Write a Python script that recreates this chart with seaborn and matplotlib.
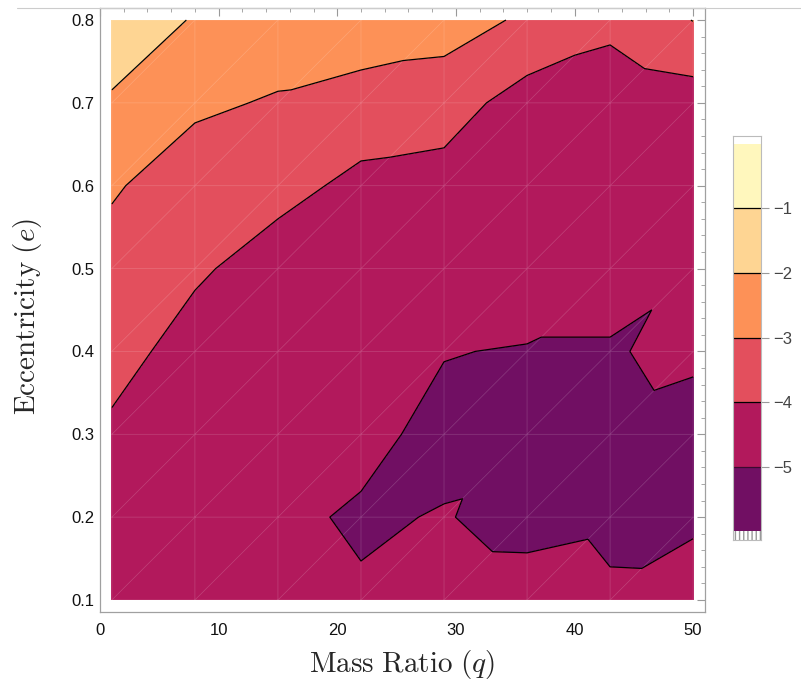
import numpy as np
import matplotlib
matplotlib.use("Agg")
import matplotlib.pyplot as plt
import matplotlib.tri as mtri
from matplotlib.lines import Line2D
import seaborn as sns

# grid of the contour data
q_vals = [1, 8, 15, 22, 29, 36, 43, 50]
e_vals = [0.1, 0.2, 0.3, 0.4, 0.5, 0.6, 0.7, 0.8]

# log values, rows from e=0.8 (top) down to e=0.1
z_rows = [
    [-1.30, -2.08, -2.20, -2.30, -2.56, -3.15, -3.69, -2.98],  # e=0.8
    [-2.13, -2.76, -3.13, -3.46, -3.56, -4.42, -4.72, -4.47],  # e=0.7
    [-2.85, -3.75, -3.70, -4.23, -4.37, -4.60, -4.70, -4.60],  # e=0.6
    [-3.53, -3.85, -4.45, -4.55, -4.70, -4.50, -4.76, -4.95],  # e=0.5
    [-3.62, -4.42, -4.55, -4.70, -4.97, -5.05, -5.05, -4.84],  # e=0.4
    [-4.18, -4.45, -4.60, -4.80, -5.21, -5.14, -5.18, -5.36],  # e=0.3
    [-4.35, -4.50, -4.85, -5.09, -4.96, -5.25, -5.12, -5.13],  # e=0.2
    [-4.45, -4.50, -4.68, -4.92, -4.65, -4.67, -4.92, -4.63],  # e=0.1
]

levels = [-6, -5, -4, -3, -2, -1, 0]
band_colors = ["#710f63", "#b2195c", "#e34f5d", "#fd9157", "#fed593", "#fff7bd"]
line_levels = [-5, -4, -3, -2, -1]
cbar_ticks = [-1, -2, -3, -4, -5]

sns.set_style("white")
plt.rcParams["font.family"] = ["Liberation Sans", "DejaVu Sans"]
plt.rcParams["mathtext.fontset"] = "cm"
plt.rcParams["contour.negative_linestyle"] = "solid"

# build the triangulated mesh (diagonals run lower-left to upper-right)
nq, ne = len(q_vals), len(e_vals)
Z = np.array(z_rows)[::-1]
x = np.tile(q_vals, ne)
y = np.repeat(e_vals, nq)
z = Z.ravel()
triangles = []
for j in range(ne - 1):
    for i in range(nq - 1):
        a = j * nq + i
        triangles.append([a, a + 1, a + nq + 1])
        triangles.append([a, a + nq + 1, a + nq])
tri = mtri.Triangulation(x, y, triangles)

fig = plt.figure(figsize=(8.01, 6.88), dpi=100)
ax = fig.add_axes([100 / 801, 76 / 688, 605 / 801, 604 / 688])

ax.tricontourf(tri, z, levels=levels, colors=band_colors)
ax.triplot(tri, color="white", lw=0.5, alpha=0.18, marker="")
ax.tricontour(tri, z, levels=line_levels, colors="black", linewidths=0.9,
              linestyles="solid")

ax.set_xlim(0, 51)
ax.set_ylim(0.0855, 0.8145)
ax.set_xticks([0, 10, 20, 30, 40, 50])
ax.set_xticks(np.arange(0, 51, 2), minor=True)
ax.set_yticks([0.1, 0.2, 0.3, 0.4, 0.5, 0.6, 0.7, 0.8])
ax.set_yticks(np.arange(0.1, 0.81, 0.02), minor=True)
ax.tick_params(which="both", direction="in", top=True, right=True,
               color="#999999", labelsize=12, labelcolor="#111111")
ax.tick_params(which="major", length=6, width=0.8)
ax.tick_params(which="minor", length=3, width=0.6)
ax.tick_params(axis="x", pad=8)
ax.tick_params(axis="y", pad=4)
for sp in ax.spines.values():
    sp.set_color("#a0a0a0")
    sp.set_linewidth(0.9)

ax.set_xlabel(r"$\mathrm{Mass\ Ratio}\ (q)$", fontsize=21)
ax.set_ylabel(r"$\mathrm{Eccentricity}\ (e)$", fontsize=21)
ax.xaxis.set_label_coords(0.5, -0.06)
ax.yaxis.set_label_coords(-0.093, 0.49)

# colour legend
cax = fig.add_axes([733 / 801, 148 / 688, 28 / 801, 404 / 688])
for lo, hi, c in zip(levels[:-1], levels[1:], band_colors):
    cax.bar(0.5, hi - lo, bottom=lo, width=1, color=c, linewidth=0)
for lv in line_levels:
    cax.axhline(lv, color="black" if lv > -5 else "#3b0a30", lw=0.9)
cax.axhspan(-6.13, -6.0, facecolor="white", hatch="||||", edgecolor="#999999", lw=0)
cax.set_xlim(0, 1)
cax.set_ylim(-6.134, 0.119)
cax.set_xticks([])
cax.set_yticks(cbar_ticks)
cax.set_yticklabels(["\u2212%d" % abs(t) for t in cbar_ticks])
cax.yaxis.tick_right()
cax.tick_params(axis="y", direction="out", length=6, width=0.8, color="#999999",
                labelsize=12, labelcolor="#444444", pad=3)
for sp in cax.spines.values():
    sp.set_color("#bbbbbb")
    sp.set_linewidth(0.8)

fig.add_artist(Line2D([17 / 801, 1.0], [1 - 8 / 688] * 2, color="#cccccc", lw=0.8))

fig.savefig("out.png", dpi=100)
